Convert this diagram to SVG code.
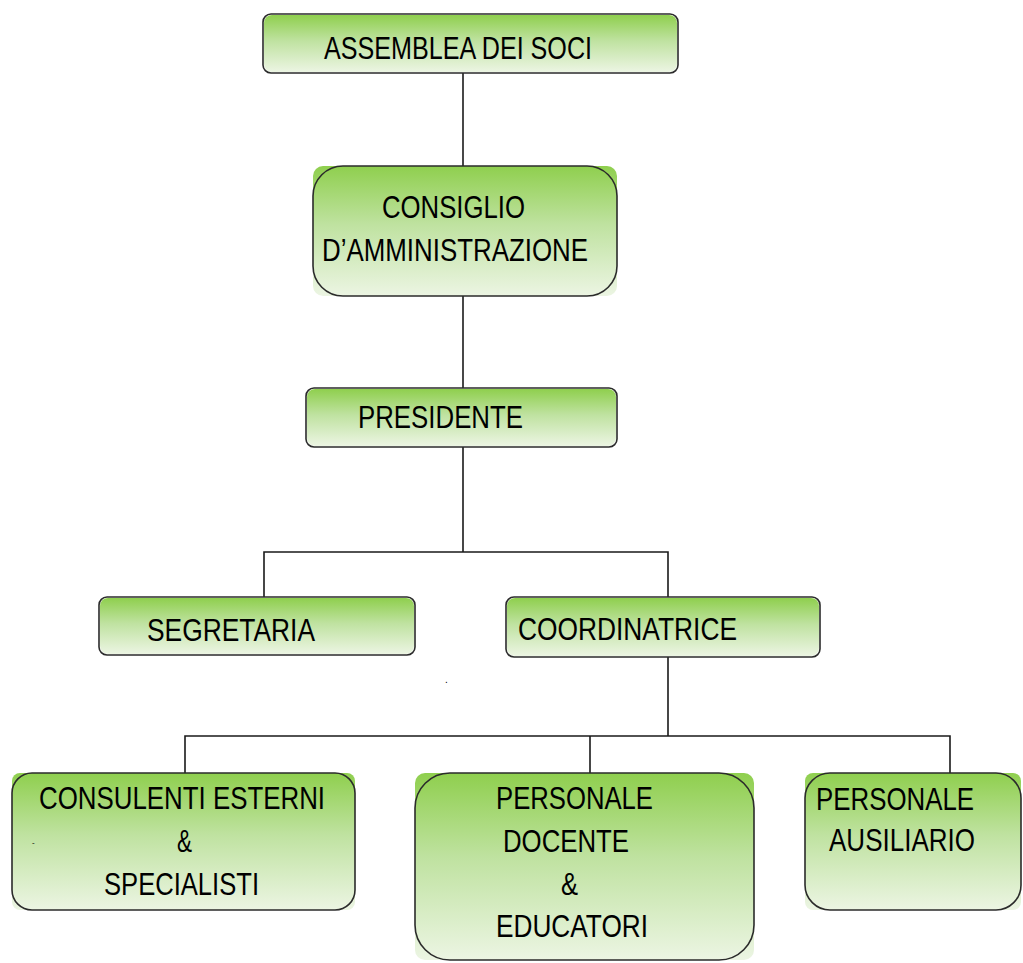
<svg xmlns="http://www.w3.org/2000/svg" width="1023" height="963" viewBox="0 0 1023 963">
<style>
.bg{fill:url(#g)}
.box{fill:none;stroke:#2b2b2b;stroke-width:1.6}
.t{font-family:"Liberation Sans",Arial,sans-serif;font-size:32px;fill:#000}
.c{fill:none;stroke:#1a1a1a;stroke-width:1.6}
.s{font-family:"Liberation Sans",Arial,sans-serif;fill:#000}
</style>
<defs>
<linearGradient id="g" x1="0" y1="0" x2="0" y2="1">
<stop offset="0" stop-color="#8fcf4e"/>
<stop offset="0.45" stop-color="#bfe2a0"/>
<stop offset="1" stop-color="#ecf5e3"/>
</linearGradient>
</defs>
<rect width="1023" height="963" fill="#fff"/>
<g id="connectors">
<path class="c" d="M463,73 V166"/>
<path class="c" d="M463,296 V388"/>
<path class="c" d="M463,447 V552 M264,597 V552 H668 V597"/>
<path class="c" d="M668,657 V736 M185,773 V736 H950 V773 M590,736 V773"/>
</g>
<g id="assemblea">
<rect class="bg" x="264" y="15" width="413" height="57" rx="8"/>
<rect class="box" x="263" y="14" width="415" height="59" rx="8"/>
<text class="t" x="324" y="59" textLength="268" lengthAdjust="spacingAndGlyphs">ASSEMBLEA DEI SOCI</text>
</g>
<g id="consiglio">
<rect class="bg" x="313" y="166" width="304" height="130" rx="10"/>
<rect class="box" x="313" y="166" width="304" height="130" rx="30"/>
<text class="t" x="382" y="218" textLength="143" lengthAdjust="spacingAndGlyphs">CONSIGLIO</text>
<text class="t" x="322" y="261" textLength="266" lengthAdjust="spacingAndGlyphs">D’AMMINISTRAZIONE</text>
</g>
<g id="presidente">
<rect class="bg" x="307" y="389" width="309" height="57" rx="8"/>
<rect class="box" x="306" y="388" width="311" height="59" rx="8"/>
<text class="t" x="358" y="428" textLength="165" lengthAdjust="spacingAndGlyphs">PRESIDENTE</text>
</g>
<g id="segretaria">
<rect class="bg" x="100" y="598" width="314" height="56" rx="8"/>
<rect class="box" x="99" y="597" width="316" height="58" rx="8"/>
<text class="t" x="147" y="641" textLength="168" lengthAdjust="spacingAndGlyphs">SEGRETARIA</text>
</g>
<g id="coordinatrice">
<rect class="bg" x="507" y="598" width="312" height="58" rx="8"/>
<rect class="box" x="506" y="597" width="314" height="60" rx="8"/>
<text class="t" x="518" y="640" textLength="219" lengthAdjust="spacingAndGlyphs">COORDINATRICE</text>
</g>
<g id="consulenti">
<rect class="bg" x="12" y="773" width="343" height="137" rx="8"/>
<rect class="box" x="12" y="773" width="343" height="137" rx="20"/>
<text class="t" x="39" y="809" textLength="286" lengthAdjust="spacingAndGlyphs">CONSULENTI ESTERNI</text>
<text class="t" x="177" y="852" textLength="15" lengthAdjust="spacingAndGlyphs">&amp;</text>
<text class="t" x="104" y="895" textLength="155" lengthAdjust="spacingAndGlyphs">SPECIALISTI</text>
<text class="s" x="32" y="845" font-size="8">-</text>
</g>
<g id="docenti">
<rect class="bg" x="415" y="773" width="339" height="187" rx="10"/>
<rect class="box" x="415" y="773" width="339" height="187" rx="35"/>
<text class="t" x="496" y="809" textLength="157" lengthAdjust="spacingAndGlyphs">PERSONALE</text>
<text class="t" x="503" y="852" textLength="126" lengthAdjust="spacingAndGlyphs">DOCENTE</text>
<text class="t" x="561" y="895" textLength="17" lengthAdjust="spacingAndGlyphs">&amp;</text>
<text class="t" x="496" y="937" textLength="152" lengthAdjust="spacingAndGlyphs">EDUCATORI</text>
</g>
<g id="ausiliario">
<rect class="bg" x="805" y="773" width="216" height="137" rx="8"/>
<rect class="box" x="805" y="773" width="216" height="137" rx="25"/>
<text class="t" x="816" y="810" textLength="158" lengthAdjust="spacingAndGlyphs">PERSONALE</text>
<text class="t" x="829" y="851" textLength="146" lengthAdjust="spacingAndGlyphs">AUSILIARIO</text>
</g>
<text class="s" x="445" y="683" font-size="10">.</text>
</svg>
